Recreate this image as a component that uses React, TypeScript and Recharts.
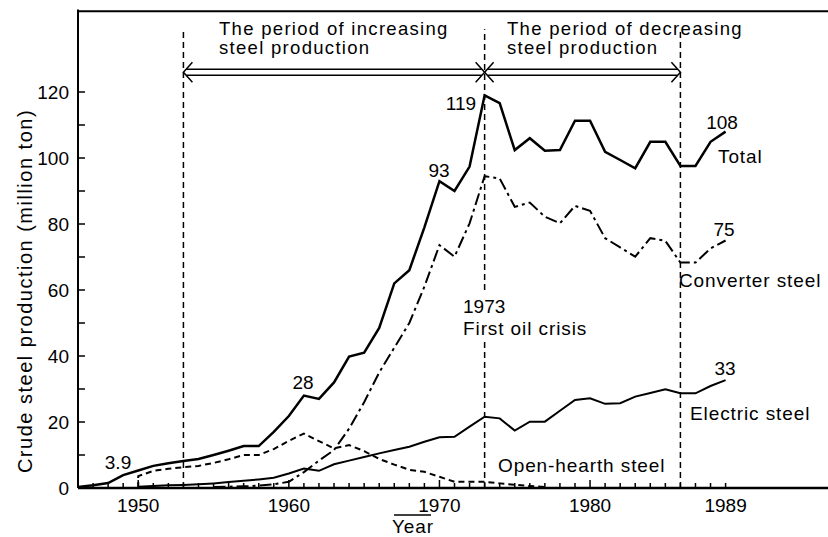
import React from "react"
import { LineChart, Line, XAxis, YAxis, ReferenceLine } from "recharts"

// years with a tick on the x axis
const tickYears = [
  1946, 1947, 1948, 1949, 1950, 1951, 1952, 1953, 1954, 1955, 1956, 1957, 1958, 1959, 1960,
  1961, 1962, 1963, 1964, 1965, 1966, 1967, 1968, 1969, 1970, 1971, 1972, 1973, 1974, 1975,
  1976, 1977, 1978, 1979, 1980, 1981, 1982, 1983, 1984, 1985, 1986, 1987, 1988, 1989,
]
const xLabels = [1950, 1960, 1970, 1980, 1989]
const yTicks = [0, 10, 20, 30, 40, 50, 60, 70, 80, 90, 100, 110, 120]

// crude steel production, million ton
const totalYears = tickYears
const total = [
  0.3, 0.8, 1.5, 3.9, 5.3, 6.7, 7.5, 8.2, 8.8, 10.0, 11.3, 12.7, 12.7, 17.0, 21.8,
  28.0, 27.0, 32.0, 39.8, 41.0, 48.5, 62.0, 66.0, 79.0, 93.0, 90.0, 97.4, 119.0, 116.6, 102.4,
  106.0, 102.2, 102.4, 111.3, 111.3, 101.9, 99.4, 96.9, 104.9, 104.9, 97.6, 97.6, 104.9, 108.0,
]

const converterYears = [
  1955, 1956, 1957, 1958, 1959, 1960, 1961, 1962, 1963, 1964, 1965, 1966, 1967, 1968, 1969,
  1970, 1971, 1972, 1973, 1974, 1975, 1976, 1977, 1978, 1979, 1980, 1981, 1982, 1983, 1984,
  1985, 1986, 1987, 1988, 1989,
]
const converter = [
  0.3, 0.4, 0.5, 0.7, 1.1, 1.9, 4.8, 8.3, 11.5, 18.0, 26.0, 35.0, 42.5, 50.0, 61.0,
  73.6, 70.1, 80.2, 94.5, 93.8, 85.2, 86.5, 82.2, 80.2, 85.5, 84.0, 75.7, 72.9, 70.1, 75.7,
  74.9, 68.3, 68.3, 72.6, 75.0,
]

// open-hearth starts with a vertical rise in 1950
const openHearthYears = [
  1950, 1950, 1951, 1952, 1953, 1954, 1955, 1956, 1957, 1958, 1959, 1960, 1961, 1962, 1963,
  1964, 1965, 1966, 1967, 1968, 1969, 1970, 1971, 1972, 1973, 1974, 1975, 1976, 1977,
]
const openHearth = [
  0, 3.6, 5.2, 5.8, 6.3, 6.7, 7.6, 8.7, 10.0, 10.0, 11.8, 14.3, 16.5, 14.2, 12.0,
  13.0, 11.2, 8.8, 7.1, 5.5, 4.9, 3.4, 1.9, 1.9, 1.9, 1.4, 1.0, 0.6, 0.3,
]

const electricYears = [
  1950, 1951, 1952, 1953, 1954, 1955, 1956, 1957, 1958, 1959, 1960, 1961, 1962, 1963, 1964,
  1965, 1966, 1967, 1968, 1969, 1970, 1971, 1972, 1973, 1974, 1975, 1976, 1977, 1978, 1979,
  1980, 1981, 1982, 1983, 1984, 1985, 1986, 1987, 1988, 1989,
]
const electric = [
  0.4, 0.6, 0.8, 0.9, 1.1, 1.4, 1.8, 2.2, 2.6, 3.1, 4.4, 5.9, 5.2, 7.2, 8.3,
  9.4, 10.5, 11.5, 12.5, 14.0, 15.4, 15.5, 18.6, 21.6, 21.1, 17.4, 20.1, 20.1, 23.4, 26.7,
  27.2, 25.5, 25.7, 27.7, 28.8, 29.9, 28.7, 28.7, 30.9, 32.7,
]

const periodStart = 1953
const oilCrisis = 1973
const periodEnd = 1986

const W = 828
const H = 537
const FONT = '"Liberation Sans", Arial, Helvetica, sans-serif'

const rows = (xs: number[], vs: number[]) => xs.map((year, i) => ({ year, value: vs[i] }))

function XTick(props: any) {
  const { x, y, payload } = props
  const yr = payload.value
  const major = yr % 10 === 0
  return (
    <g>
      <line x1={x} y1={y} x2={x} y2={y - (major ? 8 : 5)} stroke="#000" strokeWidth={1.5} />
      {xLabels.includes(yr) && (
        <text x={x} y={y + 24} textAnchor="middle" fontSize={19} fontFamily={FONT} fill="#000">
          {yr}
        </text>
      )}
    </g>
  )
}

function YTick(props: any) {
  const { x, y, payload } = props
  const v = payload.value
  return (
    <g>
      <line x1={x} y1={y} x2={x + 7} y2={y} stroke="#000" strokeWidth={1.5} />
      {v % 20 === 0 && (
        <text x={x - 9} y={y + 7} textAnchor="end" fontSize={19} fontFamily={FONT} fill="#000">
          {v}
        </text>
      )}
    </g>
  )
}

function DoubleArrow(props: any) {
  const { x1, y1, x2 } = props
  const a = Math.min(x1, x2)
  const b = Math.max(x1, x2)
  const y = y1
  return (
    <g fill="none" stroke="#000" strokeWidth={1.5}>
      <line x1={a + 3} y1={y - 3} x2={b - 3} y2={y - 3} />
      <line x1={a + 3} y1={y + 3} x2={b - 3} y2={y + 3} />
      <polyline points={`${a + 9},${y - 10} ${a},${y} ${a + 9},${y + 10}`} />
      <polyline points={`${b - 9},${y - 10} ${b},${y} ${b - 9},${y + 10}`} />
    </g>
  )
}

const txt = { fontFamily: FONT, fontSize: 19, fill: "#000" }
const words = { ...txt, letterSpacing: 0.9 }
const head = { ...txt, fontSize: 18.5, letterSpacing: 1.3 }

export default function App() {
  const dash = { stroke: "#000", strokeWidth: 1.5, strokeDasharray: "6 4" }
  return (
    <div style={{ position: "absolute", left: 0, top: 0, width: W, height: H, background: "#fff" }}>
      <LineChart width={W} height={H} margin={{ top: 9.5, right: 0, bottom: 48, left: 77 }}>
        <XAxis
          type="number"
          dataKey="year"
          domain={[1946, 1995.8]}
          ticks={tickYears}
          interval={0}
          tick={<XTick />}
          tickLine={false}
          tickSize={0}
          tickMargin={0}
          height={1}
          axisLine={{ stroke: "#000", strokeWidth: 2.5 }}
          allowDataOverflow
        />
        <YAxis
          type="number"
          domain={[0, 145]}
          ticks={yTicks}
          interval={0}
          tick={<YTick />}
          tickLine={false}
          tickSize={0}
          tickMargin={0}
          width={1}
          axisLine={{ stroke: "#000", strokeWidth: 2 }}
          allowDataOverflow
        />
        <ReferenceLine y={144.5} stroke="#000" strokeWidth={2} />
        <ReferenceLine segment={[{ x: periodStart, y: 0 }, { x: periodStart, y: 139 }]} {...dash} />
        <ReferenceLine segment={[{ x: oilCrisis, y: 0 }, { x: oilCrisis, y: 45 }]} {...dash} />
        <ReferenceLine segment={[{ x: oilCrisis, y: 60 }, { x: oilCrisis, y: 139 }]} {...dash} />
        <ReferenceLine segment={[{ x: periodEnd, y: 0 }, { x: periodEnd, y: 139 }]} {...dash} />
        <ReferenceLine
          segment={[{ x: periodStart, y: 126 }, { x: oilCrisis, y: 126 }]}
          shape={(p: any) => <DoubleArrow {...p} />}
        />
        <ReferenceLine
          segment={[{ x: oilCrisis, y: 126 }, { x: periodEnd, y: 126 }]}
          shape={(p: any) => <DoubleArrow {...p} />}
        />
        <Line data={rows(openHearthYears, openHearth)} dataKey="value" type="linear" stroke="#000"
          strokeWidth={2} strokeDasharray="6 4" dot={false} isAnimationActive={false} />
        <Line data={rows(converterYears, converter)} dataKey="value" type="linear" stroke="#000"
          strokeWidth={2} strokeDasharray="12 4 3 4" dot={false} isAnimationActive={false} />
        <Line data={rows(electricYears, electric)} dataKey="value" type="linear" stroke="#000"
          strokeWidth={2} dot={false} isAnimationActive={false} />
        <Line data={rows(totalYears, total)} dataKey="value" type="linear" stroke="#000"
          strokeWidth={2.5} dot={false} isAnimationActive={false} />
      </LineChart>
      <svg width={W} height={H} style={{ position: "absolute", left: 0, top: 0, pointerEvents: "none" }}>
        <text {...head} x={219} y={35}>The period of increasing</text>
        <text {...head} x={219} y={54}>steel production</text>
        <text {...head} x={507} y={35}>The period of decreasing</text>
        <text {...head} x={507} y={54}>steel production</text>
        <text {...txt} x={118} y={469} textAnchor="middle">3.9</text>
        <text {...txt} x={303} y={389} textAnchor="middle">28</text>
        <text {...txt} x={439} y={177} textAnchor="middle">93</text>
        <text {...txt} x={461} y={110} textAnchor="middle">119</text>
        <text {...txt} x={722} y={129} textAnchor="middle">108</text>
        <text {...words} x={718} y={163}>Total</text>
        <text {...txt} x={724} y={236} textAnchor="middle">75</text>
        <text {...words} x={679} y={287}>Converter steel</text>
        <text {...txt} x={463} y={313}>1973</text>
        <text {...words} x={463} y={335}>First oil crisis</text>
        <text {...txt} x={725} y={375} textAnchor="middle">33</text>
        <text {...words} x={690} y={420}>Electric steel</text>
        <text {...words} x={498} y={472}>Open-hearth steel</text>
        <line x1={394} y1={515} x2={431} y2={515} stroke="#000" strokeWidth={1.5} />
        <text {...words} x={413} y={533} textAnchor="middle">Year</text>
        <text {...txt} fontSize={20} letterSpacing={1.5} x={0} y={0} textAnchor="middle"
          transform="translate(32,291) rotate(-90)">
          Crude steel production (million ton)
        </text>
      </svg>
    </div>
  )
}
